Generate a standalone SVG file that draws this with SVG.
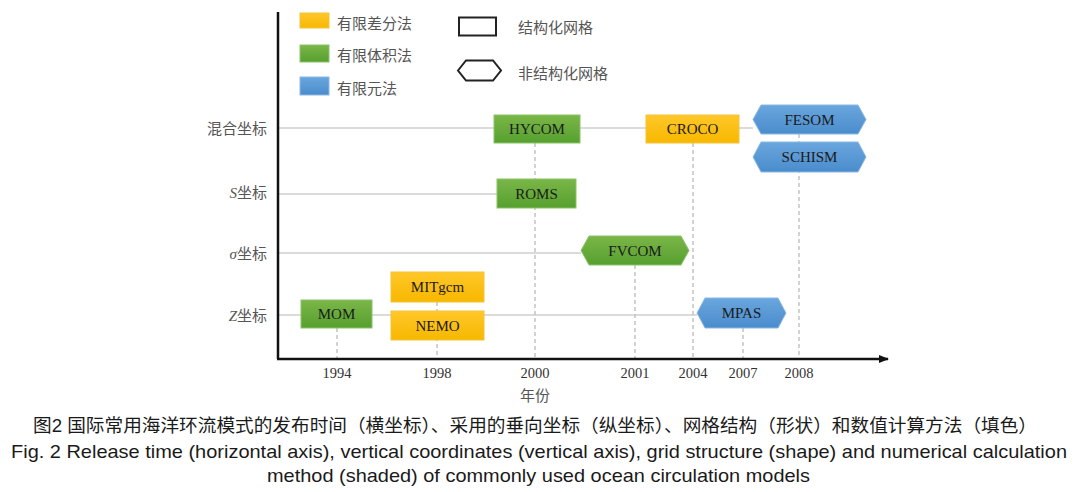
<svg xmlns="http://www.w3.org/2000/svg" width="1080" height="492" viewBox="0 0 1080 492">
<defs>
<linearGradient id="gGreen" x1="0" y1="0" x2="0" y2="1"><stop offset="0" stop-color="#7ab648"/><stop offset="1" stop-color="#56a02f"/></linearGradient>
<linearGradient id="gYellow" x1="0" y1="0" x2="0" y2="1"><stop offset="0" stop-color="#ffc72a"/><stop offset="1" stop-color="#f7b800"/></linearGradient>
<linearGradient id="gBlue" x1="0" y1="0" x2="0" y2="1"><stop offset="0" stop-color="#6aa6de"/><stop offset="1" stop-color="#4a8ccc"/></linearGradient>
<marker id="arr" markerWidth="10" markerHeight="8" refX="9" refY="4" orient="auto" markerUnits="userSpaceOnUse"><path d="M0,0 L10,4 L0,8 Z" fill="#111"/></marker>
<style>
.fd{fill:url(#gYellow);stroke:#f3c43a;stroke-width:1}
.fv{fill:url(#gGreen);stroke:#8cc36a;stroke-width:1}
.fe{fill:url(#gBlue);stroke:#8ab8e6;stroke-width:1}
.ml{font-family:"Liberation Serif",serif;font-size:15px;fill:#1a1a1a;text-anchor:middle}
.yr{font-family:"Liberation Serif",serif;font-size:14.5px;fill:#333;text-anchor:middle}
.cn{font-family:"Liberation Sans","Noto Sans CJK SC",sans-serif;font-size:15px;fill:#555}
.rl{font-family:"Liberation Serif","Noto Sans CJK SC",serif;font-size:15px;fill:#555;text-anchor:end}
.grid{stroke:#cfcfcf;stroke-width:1.5;fill:none}
.dash{stroke:#c4c4c4;stroke-width:1.5;stroke-dasharray:4 3;fill:none}
.cap{font-family:"Liberation Sans","Noto Sans CJK SC",sans-serif;fill:#1a1a1a}
.capE{font-family:"Liberation Sans Narrow","Liberation Sans",sans-serif;fill:#1a1a1a}
</style>
</defs>
<rect width="1080" height="492" fill="#fff"/>

<g id="legend">
<rect x="300" y="13" width="29" height="15" class="fd"/>
<text x="337" y="29" class="cn">有限差分法</text>
<rect x="300" y="45" width="29" height="17" class="fv"/>
<text x="337" y="61" class="cn">有限体积法</text>
<rect x="300" y="77" width="29" height="18" class="fe"/>
<text x="337" y="94" class="cn">有限元法</text>
<rect x="459" y="17.5" width="37" height="18" fill="none" stroke="#222" stroke-width="2"/>
<text x="518" y="33" class="cn">结构化网格</text>
<polygon points="458,70.5 466,60.5 493,60.5 501,70.5 493,80.5 466,80.5" fill="none" stroke="#222" stroke-width="2"/>
<text x="518" y="79" class="cn">非结构化网格</text>
</g>

<g id="connectors">
<line x1="278" y1="128" x2="753" y2="128" class="grid"/>
<line x1="278" y1="194" x2="497" y2="194" class="grid"/>
<line x1="278" y1="253" x2="581" y2="253" class="grid"/>
<line x1="278" y1="315" x2="697" y2="315" class="grid"/>
<line x1="337" y1="328" x2="337" y2="359" class="dash"/>
<line x1="437" y1="302" x2="437" y2="359" class="dash"/>
<line x1="535" y1="143" x2="535" y2="359" class="dash"/>
<line x1="635" y1="265" x2="635" y2="359" class="dash"/>
<line x1="693" y1="143" x2="693" y2="359" class="dash"/>
<line x1="743" y1="328" x2="743" y2="359" class="dash"/>
<line x1="799" y1="134" x2="799" y2="359" class="dash"/>
</g>

<g id="axes">
<line x1="278" y1="12" x2="278" y2="359" stroke="#111" stroke-width="2.5"/>
<line x1="277" y1="359" x2="888" y2="359" stroke="#111" stroke-width="2.5" marker-end="url(#arr)"/>
<text x="267" y="134" class="rl">混合坐标</text>
<text x="267" y="198" class="rl"><tspan font-style="italic">S</tspan>坐标</text>
<text x="267" y="259" class="rl"><tspan font-style="italic">σ</tspan>坐标</text>
<text x="267" y="321" class="rl"><tspan font-style="italic">Z</tspan>坐标</text>
<text x="337" y="378" class="yr">1994</text>
<text x="437" y="378" class="yr">1998</text>
<text x="535" y="378" class="yr">2000</text>
<text x="635" y="378" class="yr">2001</text>
<text x="693" y="378" class="yr">2004</text>
<text x="743" y="378" class="yr">2007</text>
<text x="799" y="378" class="yr">2008</text>
<text x="535" y="401" class="cn" style="text-anchor:middle">年份</text>
</g>

<g id="HYCOM"><rect x="494" y="115" width="86" height="28" class="fv"/><text x="537" y="134" class="ml">HYCOM</text></g>
<g id="CROCO"><rect x="646" y="115" width="93" height="28" class="fd"/><text x="692.5" y="134" class="ml">CROCO</text></g>
<g id="FESOM"><polygon points="753,119.5 761,105 858,105 866,119.5 858,134 761,134" class="fe"/><text x="809.5" y="125" class="ml">FESOM</text></g>
<g id="SCHISM"><polygon points="753,157 761,142 858,142 866,157 858,172 761,172" class="fe"/><text x="809.5" y="162" class="ml">SCHISM</text></g>
<g id="ROMS"><rect x="497" y="179" width="79" height="29" class="fv"/><text x="536.5" y="199" class="ml">ROMS</text></g>
<g id="FVCOM"><polygon points="581,250.5 589,236 681,236 689,250.5 681,265 589,265" class="fv"/><text x="635" y="256" class="ml">FVCOM</text></g>
<g id="MITgcm"><rect x="391" y="272" width="93" height="30" class="fd"/><text x="437.5" y="292" class="ml">MITgcm</text></g>
<g id="NEMO"><rect x="391" y="311" width="93" height="29" class="fd"/><text x="437.5" y="331" class="ml">NEMO</text></g>
<g id="MOM"><rect x="301" y="300" width="71" height="28" class="fv"/><text x="336.5" y="319" class="ml">MOM</text></g>
<g id="MPAS"><polygon points="697,313 705,298 778,298 786,313 778,328 705,328" class="fe"/><text x="741.5" y="318" class="ml">MPAS</text></g>

<g id="caption">
<text x="33" y="432" class="cap" font-size="18" textLength="1004" lengthAdjust="spacingAndGlyphs">图2 国际常用海洋环流模式的发布时间（横坐标）、采用的垂向坐标（纵坐标）、网格结构（形状）和数值计算方法（填色）</text>
<text x="11" y="458" class="capE" font-size="19" textLength="1056" lengthAdjust="spacingAndGlyphs">Fig. 2  Release time (horizontal axis), vertical coordinates (vertical axis), grid structure (shape) and numerical calculation</text>
<text x="267" y="482" class="capE" font-size="19" textLength="543" lengthAdjust="spacingAndGlyphs">method (shaded) of commonly used ocean circulation models</text>
</g>
</svg>
